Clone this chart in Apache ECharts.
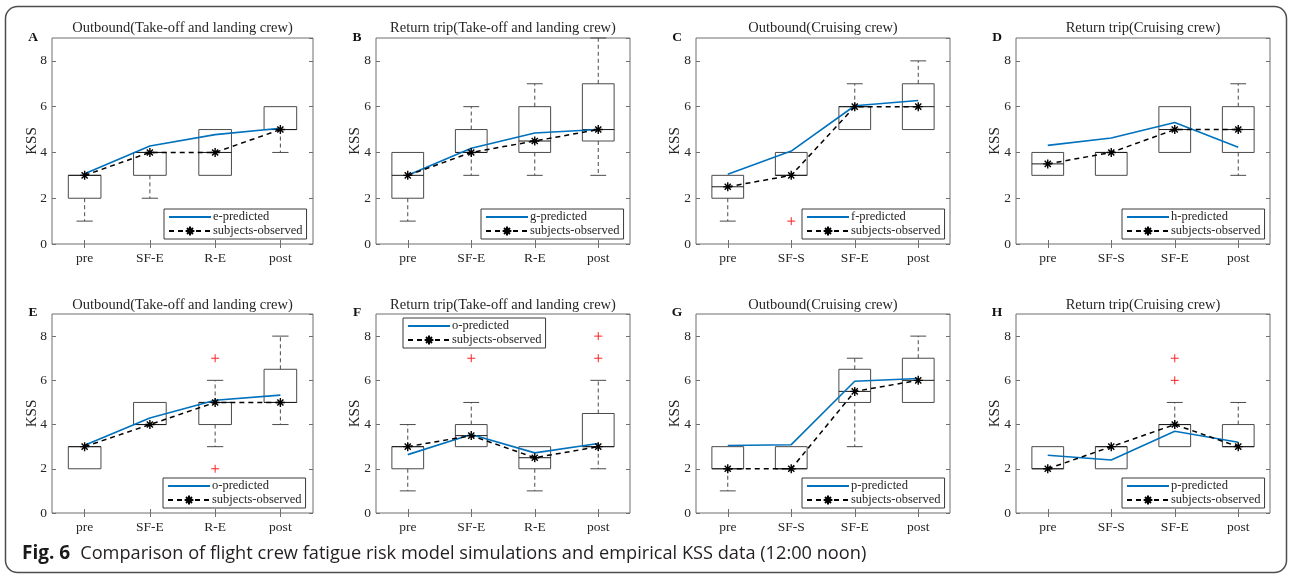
<!DOCTYPE html>
<html>
<head>
<meta charset="utf-8">
<script src="https://cdn.jsdelivr.net/npm/echarts@6/dist/echarts.min.js"></script>
<style>
  html, body { margin: 0; padding: 0; background: #fff; }
  #main { width: 1290px; height: 577px; }
</style>
</head>
<body>
<div id="main"></div>
<script>
// categories
var catsRE = ['pre', 'SF-E', 'R-E', 'post'];
var catsSF = ['pre', 'SF-S', 'SF-E', 'post'];

// box stats per category: [lower whisker, q1, median, q3, upper whisker]
var boxA = [[1, 2, 3, 3, 3], [2, 3, 4, 4, 4], [3, 3, 4, 5, 5], [4, 5, 5, 6, 6]];
var boxB = [[1, 2, 3, 4, 4], [3, 4, 4, 5, 6], [3, 4, 4.5, 6, 7], [3, 4.5, 5, 7, 9]];
var boxC = [[1, 2, 2.5, 3, 3], [3, 3, 3, 4, 4], [5, 5, 6, 6, 7], [5, 5, 6, 7, 8]];
var boxD = [[3, 3, 3.5, 4, 4], [3, 3, 4, 4, 4], [4, 4, 5, 6, 6], [3, 4, 5, 6, 7]];
var boxE = [[2, 2, 3, 3, 3], [4, 4, 4, 5, 5], [3, 4, 5, 5, 6], [4, 5, 5, 6.5, 8]];
var boxF = [[1, 2, 3, 3, 4], [3, 3, 3.5, 4, 5], [1, 2, 2.5, 3, 3], [2, 3, 3, 4.5, 6]];
var boxG = [[1, 2, 2, 3, 3], [2, 2, 2, 3, 3], [3, 5, 5.5, 6.5, 7], [5, 5, 6, 7, 8]];
var boxH = [[2, 2, 2, 3, 3], [2, 2, 3, 3, 3], [3, 3, 4, 4, 5], [3, 3, 3, 4, 5]];

// outliers: [category index, value]
var outA = [];
var outB = [];
var outC = [[1, 1]];
var outD = [];
var outE = [[2, 7], [2, 2]];
var outF = [[1, 7], [3, 7], [3, 8]];
var outG = [];
var outH = [[2, 6], [2, 7]];

// model predictions
var predA = [3.07, 4.28, 4.78, 5.06];
var predB = [3.0, 4.18, 4.85, 5.0];
var predC = [3.05, 4.06, 6.04, 6.27];
var predD = [4.31, 4.63, 5.31, 4.23];
var predE = [3.06, 4.3, 5.1, 5.33];
var predF = [2.64, 3.55, 2.72, 3.14];
var predG = [3.05, 3.09, 5.96, 6.08];
var predH = [2.61, 2.4, 3.7, 3.2];

// observed (subject medians)
var obsA = [3, 4, 4, 5];
var obsB = [3, 4, 4.5, 5];
var obsC = [2.5, 3, 6, 6];
var obsD = [3.5, 4, 5, 5];
var obsE = [3, 4, 5, 5];
var obsF = [3, 3.5, 2.5, 3];
var obsG = [2, 2, 5.5, 6];
var obsH = [2, 3, 4, 3];

var titles = ['Outbound(Take-off and landing crew)', 'Return trip(Take-off and landing crew)',
  'Outbound(Cruising crew)', 'Return trip(Cruising crew)',
  'Outbound(Take-off and landing crew)', 'Return trip(Take-off and landing crew)',
  'Outbound(Cruising crew)', 'Return trip(Cruising crew)'];
var letters = ['A', 'B', 'C', 'D', 'E', 'F', 'G', 'H'];
var predNames = ['e-predicted', 'g-predicted', 'f-predicted', 'h-predicted',
  'o-predicted', 'o-predicted', 'p-predicted', 'p-predicted'];
var obsName = 'subjects-observed';
var yTicks = [0, 9, 2];  // min, max, interval

var panels = [
  {cats: catsRE, box: boxA, out: outA, pred: predA, obs: obsA},
  {cats: catsRE, box: boxB, out: outB, pred: predB, obs: obsB},
  {cats: catsSF, box: boxC, out: outC, pred: predC, obs: obsC},
  {cats: catsSF, box: boxD, out: outD, pred: predD, obs: obsD},
  {cats: catsRE, box: boxE, out: outE, pred: predE, obs: obsE},
  {cats: catsRE, box: boxF, out: outF, pred: predF, obs: obsF},
  {cats: catsSF, box: boxG, out: outG, pred: predG, obs: obsG},
  {cats: catsSF, box: boxH, out: outH, pred: predH, obs: obsH}
];

// layout
var colLeft = [52, 376, 696, 1016];
var colWidth = [261, 254, 254, 254];
var rowTop = [38, 314];
var rowHeight = [206, 199];
var legendPos = [[164, 209], [481, 209], [802, 209], [1122, 209],
  [163, 478], [403, 318], [802, 478], [1122, 478]];

var serif = '"Liberation Serif", "DejaVu Serif", serif';
var frameColor = '#6f6f6f';
var textColor = '#262626';
var boxColor = '#4a4a4a';
var asterisk = 'path://M5 0L5 10M0 5L10 5M1.6 1.6L8.4 8.4M8.4 1.6L1.6 8.4';

var myChart = echarts.init(document.getElementById('main'));

function renderBox(params, api) {
  var x = api.value(0);
  var lo = api.coord([x, api.value(1)]);
  var q1 = api.coord([x, api.value(2)]);
  var md = api.coord([x, api.value(3)]);
  var q3 = api.coord([x, api.value(4)]);
  var hi = api.coord([x, api.value(5)]);
  var band = api.size([1, 0])[0];
  var half = band * 0.25, cap = band * 0.125;
  var cx = q1[0];
  var solid = {stroke: boxColor, lineWidth: 1, fill: null};
  var dashed = {stroke: boxColor, lineWidth: 1, lineDash: [4, 3]};
  var kids = [];
  if (hi[1] < q3[1] - 0.5) {
    kids.push({type: 'line', shape: {x1: cx, y1: q3[1], x2: cx, y2: hi[1]}, style: dashed});
    kids.push({type: 'line', shape: {x1: cx - cap, y1: hi[1], x2: cx + cap, y2: hi[1]}, style: solid});
  }
  if (lo[1] > q1[1] + 0.5) {
    kids.push({type: 'line', shape: {x1: cx, y1: q1[1], x2: cx, y2: lo[1]}, style: dashed});
    kids.push({type: 'line', shape: {x1: cx - cap, y1: lo[1], x2: cx + cap, y2: lo[1]}, style: solid});
  }
  kids.push({type: 'rect', shape: {x: cx - half, y: q3[1], width: half * 2, height: q1[1] - q3[1]},
    style: {stroke: boxColor, lineWidth: 1, fill: 'rgba(0,0,0,0)'}});
  kids.push({type: 'line', shape: {x1: cx - half, y1: md[1], x2: cx + half, y2: md[1]},
    style: {stroke: '#1a1a1a', lineWidth: 1}});
  return {type: 'group', children: kids};
}

function renderPlus(params, api) {
  var p = api.coord([api.value(0), api.value(1)]);
  var s = 4;
  var st = {stroke: '#ff2020', lineWidth: 1};
  return {type: 'group', children: [
    {type: 'line', shape: {x1: p[0] - s, y1: p[1], x2: p[0] + s, y2: p[1]}, style: st},
    {type: 'line', shape: {x1: p[0], y1: p[1] - s, x2: p[0], y2: p[1] + s}, style: st}
  ]};
}

var grid = [], xAxis = [], yAxis = [], series = [], title = [], legend = [];

panels.forEach(function (pn, i) {
  var col = i % 4, row = Math.floor(i / 4);
  grid.push({
    left: colLeft[col], top: rowTop[row], width: colWidth[col], height: rowHeight[row],
    show: true, borderColor: frameColor, borderWidth: 1, backgroundColor: 'transparent'
  });
  // bottom and top category axes
  xAxis.push({
    type: 'category', gridIndex: i, data: pn.cats, position: 'bottom',
    axisLine: {show: false},
    axisTick: {show: true, inside: true, length: 4, alignWithLabel: true, lineStyle: {color: frameColor}},
    axisLabel: {fontFamily: serif, fontSize: 13.5, color: textColor, margin: 7},
    splitLine: {show: false}
  });
  xAxis.push({
    type: 'category', gridIndex: i, data: pn.cats, position: 'top',
    axisLine: {show: false},
    axisTick: {show: true, inside: true, length: 4, alignWithLabel: true, lineStyle: {color: frameColor}},
    axisLabel: {show: false}, splitLine: {show: false}
  });
  // left and right value axes
  yAxis.push({
    type: 'value', gridIndex: i, min: yTicks[0], max: yTicks[1], interval: yTicks[2], position: 'left',
    name: 'KSS', nameLocation: 'middle', nameGap: col === 0 ? 12.5 : 13.5, nameMoveOverlap: false,
    nameTextStyle: {fontFamily: serif, fontSize: 15, color: textColor},
    axisLine: {show: false},
    axisTick: {show: true, inside: true, length: 4, lineStyle: {color: frameColor}},
    axisLabel: {fontFamily: serif, fontSize: 13.5, color: textColor, margin: 5, showMaxLabel: false},
    splitLine: {show: false}
  });
  yAxis.push({
    type: 'value', gridIndex: i, min: yTicks[0], max: yTicks[1], interval: yTicks[2], position: 'right',
    axisLine: {show: false},
    axisTick: {show: true, inside: true, length: 4, lineStyle: {color: frameColor}},
    axisLabel: {show: false}, splitLine: {show: false}
  });
  var xi = i * 2, yi = i * 2;

  series.push({
    type: 'custom', xAxisIndex: xi, yAxisIndex: yi, renderItem: renderBox,
    encode: {x: 0, y: [1, 2, 3, 4, 5]}, silent: true, z: 1,
    data: pn.box.map(function (b, k) { return [k].concat(b); })
  });
  if (pn.out.length) {
    series.push({
      type: 'custom', xAxisIndex: xi, yAxisIndex: yi, renderItem: renderPlus,
      encode: {x: 0, y: 1}, silent: true, z: 2, data: pn.out
    });
  }
  series.push({
    name: predNames[i], type: 'line', xAxisIndex: xi, yAxisIndex: yi, data: pn.pred,
    showSymbol: false, symbol: 'none', z: 3,
    lineStyle: {color: '#0072BD', width: 1.6}, itemStyle: {color: '#0072BD'}
  });
  series.push({
    name: obsName, type: 'line', xAxisIndex: xi, yAxisIndex: yi, data: pn.obs,
    symbol: asterisk, symbolSize: 9, z: 4,
    lineStyle: {color: '#000', width: 1.5, type: [5, 4]},
    itemStyle: {color: '#000', borderColor: '#000', borderWidth: 1.4}
  });

  title.push({
    text: titles[i], left: colLeft[col] + colWidth[col] / 2, textAlign: 'center',
    top: row === 0 ? 21 : 298, padding: 0,
    textStyle: {fontFamily: serif, fontSize: 14.5, fontWeight: 'normal', color: textColor}
  });
  title.push({
    text: letters[i], left: colLeft[col] - 19, textAlign: 'center',
    top: row === 0 ? 31 : 306, padding: 0,
    textStyle: {fontFamily: serif, fontSize: 13.5, fontWeight: 'bold', color: '#111'}
  });
  legend.push({
    data: [{name: predNames[i], itemStyle: {opacity: 0}}, obsName], orient: 'vertical',
    left: legendPos[i][0], top: legendPos[i][1],
    backgroundColor: '#fff', borderColor: '#3a3a3a', borderWidth: 1,
    padding: [1, 4, 1, 4], itemGap: 0, itemWidth: 42, itemHeight: 11,
    selectedMode: false,
    textStyle: {fontFamily: serif, fontSize: 12.5, color: textColor, lineHeight: 14, padding: [0, 0, 0, -3]}
  });
});

title.push({
  text: '{b|Fig. 6}  {n|Comparison of flight crew fatigue risk model simulations and empirical KSS data (12:00 noon)}',
  left: 22, top: 544, padding: 0,
  textStyle: {
    rich: {
      b: {fontFamily: '"Open Sans", sans-serif', fontSize: 19, fontWeight: 'bold', color: '#1a1a1a'},
      n: {fontFamily: '"Open Sans", sans-serif', fontSize: 18.2, fontWeight: 'normal', color: '#231f20'}
    }
  }
});

var option = {
  backgroundColor: '#fff',
  animation: false,
  title: title,
  legend: legend,
  grid: grid,
  xAxis: xAxis,
  yAxis: yAxis,
  series: series,
  graphic: [{
    type: 'rect', z: -1, silent: true,
    shape: {x: 5.5, y: 6.5, width: 1281, height: 566, r: 12},
    style: {fill: 'none', stroke: '#4d4d4d', lineWidth: 1.5}
  }]
};
myChart.setOption(option);
</script>
</body>
</html>
